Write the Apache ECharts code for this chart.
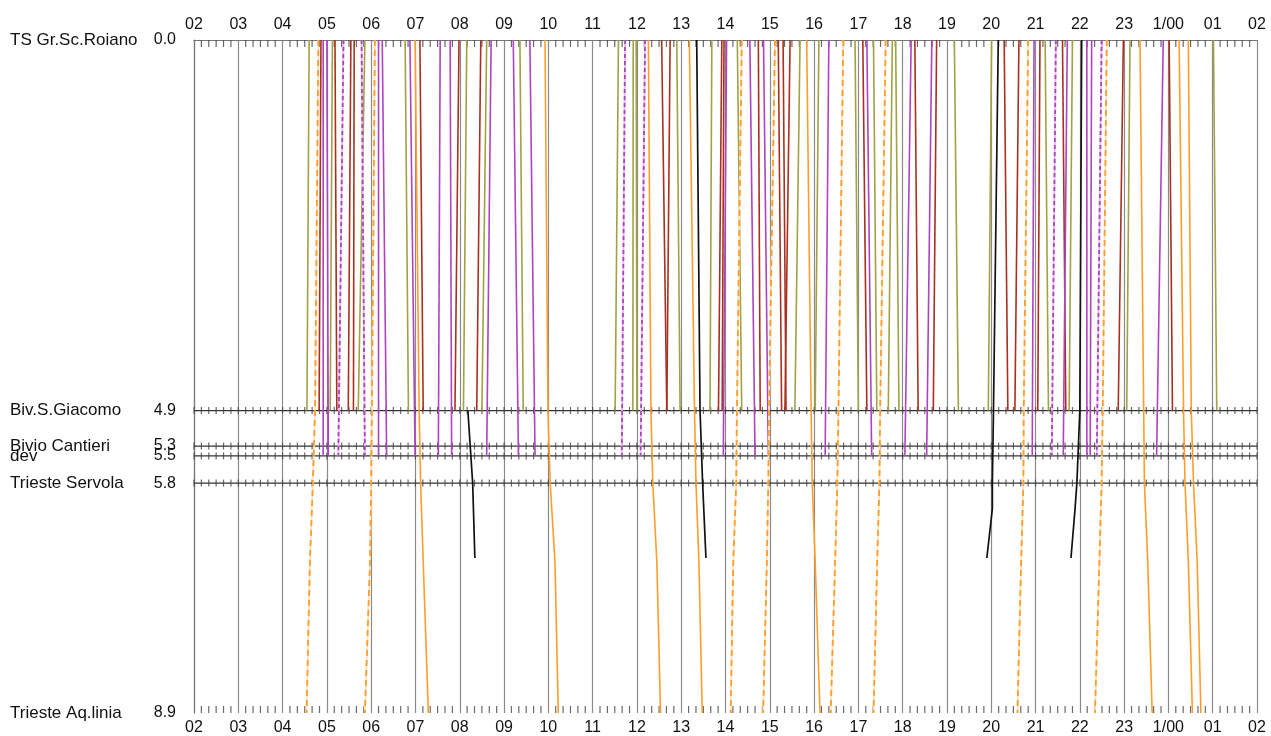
<!DOCTYPE html>
<html>
<head>
<meta charset="utf-8">
<script src="https://cdn.jsdelivr.net/npm/echarts@6/dist/echarts.min.js"></script>
<style>
html,body{margin:0;padding:0;background:#fff;}
#chart{width:1271px;height:736px;}
</style>
</head>
<body>
<div id="chart"></div>
<script>
// ---- Data (times in minutes after 00:00; 1440+ = next day) ----
const hourLabels = ['02','03','04','05','06','07','08','09','10','11','12','13','14','15','16','17','18','19','20','21','22','23','1/00','01','02'];
const stationNames = ['TS Gr.Sc.Roiano','Biv.S.Giacomo','Bivio Cantieri','dev','Trieste Servola','Trieste Aq.linia'];
const stationKm = [0, 4.9, 5.37, 5.5, 5.86, 8.9];
const stationKmLabels = ['0.0','4.9','5.3','5.5','5.8','8.9'];

// olive: [time at 0.0, time at 4.9]
const oliveTrains = [
  [276,273],[307.5,304.5],[351.5,342.5],[406,410.5],[489.5,485],[516.5,510],[561.5,566],
  [695,690.5],[715,714.5],[719,720],[774,778.5],[821.5,819],[856,862],[941,934],
  [966.5,961.5],[1015.5,1020],[1040.5,1045],[1066,1060.5],[1070.5,1075],[1150,1155.5],[1200.5,1196],
  [1273,1277.5],[1310,1305.5],[1388,1383.5],[1501,1505.5]
];
// dark red: [time at 0.0, time at 4.9]
const redTrains = [
  [292,289.5],[311,313.5],[332.5,329],[337,336],[426,430.5],[479,473.5],[508.5,503],
  [753.5,760.5],[765,760.5],[835,830.5],[838,835.5],[884.5,887],[911.5,916],[918,922],[927.5,920.5],
  [1026,1031.5],[1096.5,1101],[1126,1121.5],[1217.5,1222.5],[1237.5,1232],
  [1266,1263],[1296.5,1301],[1379,1372],[1441,1445.5]
];
// purple: [time at 0.0, time at 5.5 (dev)]
const purpleTrains = [
  [295,295],[300,302],[370,370],[375,381],[412.5,419.5],[453.5,451],[467,469],[522.5,516.5],[552.5,559.5],[575,582],
  [841.5,837],[873,880],[891.5,898],
  [980,975],[1031.5,1038],[1091.5,1083],[1119.5,1112.5],[1258,1255.5],
  [1303,1297.5],[1329.5,1329.5],[1336,1334],[1433,1424]
];
const purpleDashedTrains = [
  [322.5,315.5],[347,351.5],[704,699.5],[731,725],[1287.5,1282],[1349.5,1343]
];
// orange: times at km 0.0, 4.9, 5.86, 6.9, 8.9
const orangeKm = [0, 4.9, 5.86, 6.9, 8.9];
const orangeTrains = [
  [419.5,425,427,430.5,437.5],
  [595.5,599.5,602.5,609,613.5],
  [735.5,739,741.5,747,752],
  [791,798,800,804,808.5],
  [950,956,957.5,961.5,968],
  [1401.5,1406.5,1407.5,1412,1418],
  [1454.5,1460.5,1462.5,1467,1472.5],
  [1467,1471,1474,1479,1484]
];
const orangeDashedTrains = [
  [288.5,284,281,277,272.5],
  [365,361,360,358.5,351.5],
  [862,855.5,854.5,850.5,847],
  [907,899,898,896,891],
  [999.5,993,991.5,988.5,982.5],
  [1057,1049.5,1048.5,1045.5,1040.5],
  [1250,1244,1243.5,1240.5,1235.5],
  [1356.5,1351,1349.5,1346.5,1340.5]
];
// black: [time, km] points
const blackTrains = [
  [[491,4.9],[497.5,5.86],[500.5,6.85]],
  [[801,0],[805.5,4.9],[809,5.86],[813.5,6.85]],
  [[1209.5,0],[1203,4.9],[1201.5,5.86],[1201.5,6.2],[1194,6.85]],
  [[1322.5,0],[1320,4.9],[1316,5.86],[1313.5,6.2],[1308,6.85]]
];

// ---- Styles ----
const C_OLIVE = '#a0a244', C_RED = '#a83020', C_PURPLE = '#ac44be', C_ORANGE = '#ff9d2a', C_BLACK = '#111111';
const FONT = '"Liberation Sans", Arial, Helvetica, sans-serif';
const T0 = 120, T1 = 1560, KM_END = 8.9;

const series = [];
function addLine(data, color, type, width, z) {
  series.push({
    type: 'line', data: data, symbol: 'none', silent: true, animation: false,
    lineStyle: { color: color, width: width || 1.6, type: type || 'solid' },
    z: z || 3
  });
}
function addTicks(data, offset) {
  series.push({
    type: 'scatter', data: data, symbol: 'rect', symbolSize: [1.2, 7], symbolOffset: [0, offset],
    itemStyle: { color: '#444444' }, silent: true, animation: false, z: 2
  });
}

// intermediate station lines with cross ticks every 10 minutes
const midStations = [1,2,3,4];
midStations.forEach(i => addLine([[T0, stationKm[i]], [T1, stationKm[i]]], '#333333', 'solid', 1.2, 2));
const midTicks = [], topTicks = [], bottomTicks = [];
for (let t = T0; t <= T1; t += 10) {
  midStations.forEach(i => midTicks.push([t, stationKm[i]]));
  if ((t - T0) % 60 !== 0) { topTicks.push([t, 0]); bottomTicks.push([t, KM_END]); }
}
addTicks(midTicks, 0);
addTicks(topTicks, 3.5);
addTicks(bottomTicks, -3.5);

oliveTrains.forEach(t => addLine([[t[0], 0], [t[1], 4.9]], C_OLIVE));
redTrains.forEach(t => addLine([[t[0], 0], [t[1], 4.9]], C_RED));
purpleTrains.forEach(t => addLine([[t[0], 0], [t[1], 5.5]], C_PURPLE));
purpleDashedTrains.forEach(t => {
  addLine([[t[0], 0], [t[1], 5.5]], '#e7b6ec', 'solid', 1.8);
  addLine([[t[0], 0], [t[1], 5.5]], C_PURPLE, [4, 3], 1.8, 4);
});
orangeTrains.forEach(t => addLine(t.map((v, k) => [v, orangeKm[k]]), C_ORANGE));
orangeDashedTrains.forEach(t => {
  addLine(t.map((v, k) => [v, orangeKm[k]]), '#ffe2bd', 'solid', 1.8);
  addLine(t.map((v, k) => [v, orangeKm[k]]), C_ORANGE, [6, 4], 1.8, 4);
});
blackTrains.forEach(t => addLine(t, C_BLACK, 'solid', 1.7, 5));

function hourFmt(v) {
  const i = Math.round((v - T0) / 60);
  return hourLabels[i] !== undefined ? hourLabels[i] : '';
}
const xCommon = {
  type: 'value', min: T0, max: T1, interval: 60,
  axisLine: { show: true, lineStyle: { color: '#777', width: 1.2 } },
  axisTick: { show: false },
  minorTick: { show: false },
  splitLine: { show: true, lineStyle: { color: '#8a8a8a', width: 1.2 } },
  axisLabel: { formatter: hourFmt, fontFamily: FONT, fontSize: 16, color: '#111', margin: 7 }
};

const option = {
  backgroundColor: '#ffffff',
  animation: false,
  grid: { left: 194, right: 14, top: 40, bottom: 23, containLabel: false },
  xAxis: [
    Object.assign({}, xCommon, { position: 'top' }),
    Object.assign({}, xCommon, { position: 'bottom', splitLine: { show: false } })
  ],
  yAxis: [
    {
      type: 'value', inverse: true, min: 0, max: KM_END, position: 'left',
      axisLine: { show: true, lineStyle: { color: '#777', width: 1.2 } },
      axisTick: { show: false }, splitLine: { show: false },
      axisLabel: {
        customValues: stationKm, margin: 18, fontFamily: FONT, fontSize: 16, color: '#111',
        formatter: v => { const i = stationKm.indexOf(v); return i >= 0 ? stationKmLabels[i] : ''; }
      }
    },
    {
      type: 'value', inverse: true, min: 0, max: KM_END, position: 'left',
      axisLine: { show: false }, axisTick: { show: false }, splitLine: { show: false },
      axisLabel: {
        customValues: stationKm, margin: 184, align: 'left', fontFamily: FONT, fontSize: 17, color: '#111',
        formatter: v => { const i = stationKm.indexOf(v); return i >= 0 ? stationNames[i] : ''; }
      }
    }
  ],
  series: series
};

const chart = echarts.init(document.getElementById('chart'), null, { renderer: 'canvas' });
chart.setOption(option);
</script>
</body>
</html>
